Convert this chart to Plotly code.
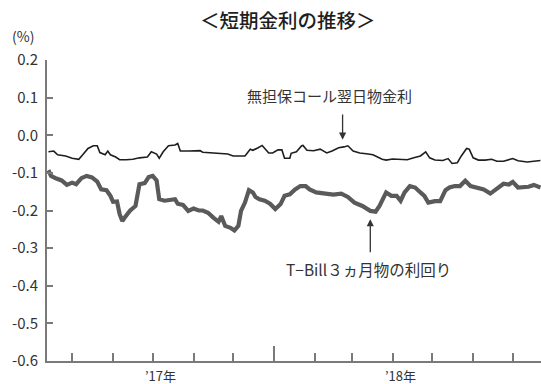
import plotly.graph_objects as go

# 無担保コール翌日物金利 (black thin line)
call_dates = ["2017-07-14","2017-07-18","2017-07-21","2017-07-27","2017-08-01","2017-08-06","2017-08-09","2017-08-13",
    "2017-08-17","2017-08-20","2017-08-22","2017-08-26","2017-08-28","2017-08-30","2017-09-03","2017-09-06",
    "2017-09-11","2017-09-16","2017-09-21","2017-09-27","2017-09-30","2017-10-04","2017-10-06","2017-10-09",
    "2017-10-13","2017-10-18","2017-10-20","2017-10-22","2017-10-29","2017-11-06","2017-11-08","2017-11-16",
    "2017-11-21","2017-11-27","2017-12-01","2017-12-10","2017-12-14","2017-12-16","2017-12-20","2017-12-23",
    "2017-12-28","2017-12-31","2018-01-04","2018-01-07","2018-01-09","2018-01-13","2018-01-14","2018-01-18",
    "2018-01-22","2018-01-23","2018-01-26","2018-01-31","2018-02-05","2018-02-10","2018-02-14","2018-02-19",
    "2018-02-23","2018-02-26","2018-03-02","2018-03-07","2018-03-12","2018-03-17","2018-03-24","2018-03-27",
    "2018-04-01","2018-04-07","2018-04-12","2018-04-17","2018-04-22","2018-04-26","2018-04-29","2018-05-03",
    "2018-05-09","2018-05-13","2018-05-16","2018-05-20","2018-05-23","2018-05-27","2018-05-29","2018-06-01",
    "2018-06-05","2018-06-10","2018-06-15","2018-06-19","2018-06-24","2018-07-01","2018-07-05","2018-07-12",
    "2018-07-17","2018-07-22"]
call_rate = [-0.044,-0.042,-0.052,-0.055,-0.061,-0.064,-0.052,-0.035,
    -0.028,-0.028,-0.046,-0.052,-0.042,-0.052,-0.058,-0.065,
    -0.065,-0.064,-0.060,-0.058,-0.044,-0.050,-0.061,-0.044,
    -0.028,-0.026,-0.022,-0.042,-0.042,-0.041,-0.045,-0.047,
    -0.050,-0.050,-0.055,-0.055,-0.037,-0.040,-0.033,-0.027,
    -0.047,-0.047,-0.039,-0.039,-0.061,-0.061,-0.048,-0.044,
    -0.028,-0.027,-0.040,-0.041,-0.037,-0.047,-0.042,-0.033,
    -0.031,-0.028,-0.042,-0.047,-0.049,-0.052,-0.064,-0.066,
    -0.063,-0.065,-0.065,-0.060,-0.055,-0.044,-0.060,-0.066,
    -0.067,-0.062,-0.075,-0.073,-0.055,-0.035,-0.037,-0.060,
    -0.066,-0.066,-0.064,-0.069,-0.069,-0.062,-0.068,-0.071,
    -0.069,-0.067]

# T-Bill 3ヵ月物の利回り (thick gray line)
tbill_dates = ["2017-07-14","2017-07-16","2017-07-20","2017-07-24","2017-07-28","2017-08-01","2017-08-04","2017-08-08",
    "2017-08-12","2017-08-16","2017-08-20","2017-08-23","2017-08-27","2017-08-30","2017-09-01","2017-09-04",
    "2017-09-06","2017-09-08","2017-09-10","2017-09-14","2017-09-18","2017-09-21","2017-09-25","2017-09-28",
    "2017-10-01","2017-10-04","2017-10-06","2017-10-10","2017-10-18","2017-10-20","2017-10-24","2017-10-28",
    "2017-11-01","2017-11-05","2017-11-08","2017-11-12","2017-11-16","2017-11-20","2017-11-22","2017-11-25",
    "2017-11-29","2017-12-02","2017-12-05","2017-12-07","2017-12-10","2017-12-13","2017-12-16","2017-12-18",
    "2017-12-21","2017-12-25","2017-12-29","2018-01-02","2018-01-06","2018-01-09","2018-01-13","2018-01-17",
    "2018-01-21","2018-01-25","2018-01-28","2018-02-02","2018-02-09","2018-02-15","2018-02-21","2018-02-26",
    "2018-03-03","2018-03-09","2018-03-15","2018-03-19","2018-03-22","2018-03-27","2018-03-31","2018-04-04",
    "2018-04-07","2018-04-10","2018-04-14","2018-04-18","2018-04-22","2018-04-25","2018-04-28","2018-05-01",
    "2018-05-03","2018-05-07","2018-05-11","2018-05-14","2018-05-18","2018-05-22","2018-05-26","2018-05-30",
    "2018-06-04","2018-06-09","2018-06-14","2018-06-19","2018-06-24","2018-06-28","2018-07-01","2018-07-05",
    "2018-07-09","2018-07-13","2018-07-17","2018-07-22"]
tbill_rate = [-0.093,-0.108,-0.115,-0.120,-0.132,-0.126,-0.130,-0.114,
    -0.108,-0.112,-0.123,-0.144,-0.146,-0.161,-0.177,-0.176,
    -0.210,-0.228,-0.218,-0.200,-0.188,-0.130,-0.127,-0.111,
    -0.108,-0.120,-0.170,-0.174,-0.170,-0.182,-0.185,-0.201,
    -0.195,-0.200,-0.200,-0.206,-0.219,-0.230,-0.215,-0.241,
    -0.246,-0.253,-0.241,-0.201,-0.179,-0.146,-0.152,-0.164,
    -0.170,-0.174,-0.182,-0.196,-0.183,-0.161,-0.157,-0.144,
    -0.135,-0.135,-0.144,-0.152,-0.155,-0.158,-0.155,-0.164,
    -0.179,-0.188,-0.201,-0.203,-0.188,-0.152,-0.161,-0.161,
    -0.174,-0.152,-0.135,-0.139,-0.152,-0.161,-0.179,-0.176,
    -0.175,-0.175,-0.146,-0.139,-0.135,-0.135,-0.121,-0.135,
    -0.139,-0.144,-0.155,-0.141,-0.129,-0.131,-0.124,-0.139,
    -0.139,-0.137,-0.132,-0.139]

title_text = "＜短期金利の推移＞"
unit_text = "(%)"
call_label = "無担保コール翌日物金利"
tbill_label = "T−Bill３ヵ月物の利回り"
y_ticks = [0.2, 0.1, 0.0, -0.1, -0.2, -0.3, -0.4, -0.5, -0.6]
year_labels = ["’17年", "’18年"]
year_label_dates = ["2017-10-01", "2018-04-01"]

FONT = "Noto Sans CJK JP"
AXIS = "#7a7a7a"

fig = go.Figure()
fig.add_trace(go.Scatter(x=tbill_dates, y=tbill_rate, mode="lines",
                         line=dict(color="#5a5a5a", width=4.2), showlegend=False))
fig.add_trace(go.Scatter(x=call_dates, y=call_rate, mode="lines",
                         line=dict(color="#1e1e1e", width=1.6), showlegend=False))

annotations = []
for lab, d in zip(year_labels, year_label_dates):
    annotations.append(dict(x=d, xref="x", y=0, yref="paper", text=lab, showarrow=False,
                            yanchor="top", yshift=-4, xshift=8, borderpad=0,
                            font=dict(family=FONT, size=13, color="#333")))
annotations.append(dict(x=-0.075, xref="paper", y=1.08, yref="paper", text=unit_text, showarrow=False,
                        xanchor="left", yanchor="middle", font=dict(family=FONT, size=14, color="#333")))
annotations.append(dict(x="2018-02-12", xref="x", y=0.105, yref="y", text=call_label, showarrow=False,
                        font=dict(family=FONT, size=15, color="#333")))
annotations.append(dict(x="2018-02-22", xref="x", y=-0.012, yref="y", text="", showarrow=True,
                        ax="2018-02-22", axref="x", ay=0.059, ayref="y",
                        arrowhead=2, arrowsize=1.1, arrowwidth=1.3, arrowcolor="#333"))
annotations.append(dict(x="2018-03-14", xref="x", y=-0.355, yref="y", text=tbill_label, showarrow=False,
                        font=dict(family=FONT, size=15.5, color="#333")))
annotations.append(dict(x="2018-03-15", xref="x", y=-0.223, yref="y", text="", showarrow=True,
                        ax="2018-03-15", axref="x", ay=-0.315, ayref="y",
                        arrowhead=2, arrowsize=1.1, arrowwidth=1.3, arrowcolor="#333"))

fig.update_layout(
    width=541, height=384,
    margin=dict(l=47, r=0, t=60, b=23),
    paper_bgcolor="white", plot_bgcolor="white",
    font=dict(family=FONT, color="#333"),
    title=dict(text=title_text, x=0.532, xanchor="center", y=0.945, yanchor="middle",
               font=dict(family=FONT, size=19.5, color="#1e1e1e", weight=500)),
    annotations=annotations,
    xaxis=dict(type="date", range=["2017-07-12 22:00", "2018-07-22 10:00"],
               showgrid=False, zeroline=False, showline=True, linecolor=AXIS, linewidth=2,
               tickmode="array", tickvals=["2018-01-01"], ticks="inside", ticklen=15,
               tickwidth=2, tickcolor=AXIS, showticklabels=False,
               minor=dict(ticks="inside", ticklen=8, tickwidth=1.5, tickcolor=AXIS,
                          dtick="M1", tick0="2017-07-01", showgrid=False)),
    yaxis=dict(range=[-0.6, 0.2], tickmode="array", tickvals=y_ticks,
               ticktext=[f"{v:.1f}" for v in y_ticks],
               showgrid=False, zeroline=False, showline=True, linecolor=AXIS, linewidth=2,
               ticks="inside", ticklen=6, tickwidth=1.5, tickcolor=AXIS,
               ticklabelstandoff=4,
               tickfont=dict(family=FONT, size=15, color="#333")),
)

fig.write_html("out.html")
